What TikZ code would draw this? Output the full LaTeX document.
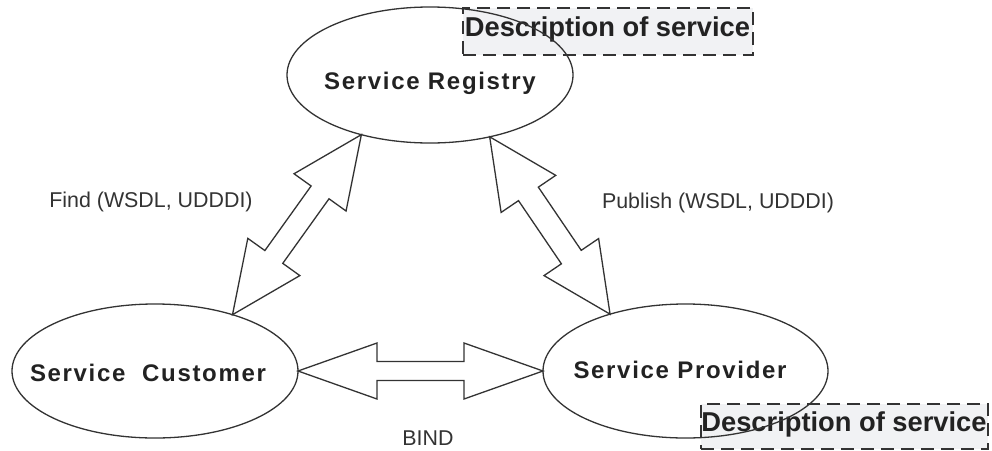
\documentclass[tikz,border=0pt]{standalone}
\usepackage{fontspec}
\setmainfont{Liberation Sans}
\newfontfamily\spacedfont[LetterSpace=7]{Liberation Sans}
\usetikzlibrary{calc,shapes.geometric}
\definecolor{linegray}{HTML}{333333}
\definecolor{boxfill}{HTML}{F1F2F4}
\definecolor{txtgray}{HTML}{222222}
\tikzset{
  blockarrow/.style={draw=linegray, line width=1.3pt, line join=miter, fill=white},
  ell/.style={ellipse, draw=linegray, line width=1.3pt, inner sep=0pt, outer sep=0pt},
  elabel/.style={inner sep=0pt, font=\spacedfont\bfseries\fontsize{24}{28}\selectfont, text=txtgray},
  slabel/.style={inner sep=0pt, font=\fontsize{21.4}{25}\selectfont, text=linegray},
  descbox/.style={draw=linegray, fill=boxfill, line width=1.6pt, dash pattern=on 13pt off 7pt, inner sep=0pt},
  desctext/.style={inner sep=0pt, font=\bfseries\fontsize{27.3}{31}\selectfont, text=txtgray}
}
\newcommand\blockarr[5]{%
  \draw[blockarrow] (#1)
   -- ($(#1)!#3!(#2)!#4!90:(#2)$)
   -- ($(#1)!#3!(#2)!#5!90:(#2)$)
   -- ($(#2)!#3!(#1)!#5!-90:(#1)$)
   -- ($(#2)!#3!(#1)!#4!-90:(#1)$)
   -- (#2)
   -- ($(#2)!#3!(#1)!#4!90:(#1)$)
   -- ($(#2)!#3!(#1)!#5!90:(#1)$)
   -- ($(#1)!#3!(#2)!#5!-90:(#2)$)
   -- ($(#1)!#3!(#2)!#4!-90:(#2)$)
   -- cycle;}
\begin{document}
\begin{tikzpicture}[x=1pt,y=-1pt]
\useasboundingbox[fill=white] (0,0) rectangle (992,450);
% description boxes
\node[descbox, minimum width=290pt, minimum height=47pt] (d1) at (608,31.5) {};
\node[desctext] (d1t) at (607.5,29) {Description of service};
\node[descbox, minimum width=287pt, minimum height=45pt] (d2) at (844.5,426.5) {};
\node[desctext] (d2t) at (844,424) {Description of service};
% ellipses
\node[ell, minimum width=286pt, minimum height=136pt] (reg) at (430,75) {};
\node[ell, minimum width=286pt, minimum height=134pt] (cust) at (155,371) {};
\node[ell, minimum width=285pt, minimum height=134pt] (prov) at (685.5,371) {};
\node[elabel] (regt) at (430,83) {Service Registry};
\node[elabel] (custt) at (148,373) {Service\ \ Customer};
\node[elabel] (provt) at (680,370) {Service Provider};
% labels
\node[slabel] (find) at (151,202) {Find (WSDL, UDDDI)};
\node[slabel] (pub) at (718,203) {Publish (WSDL, UDDDI)};
\node[slabel] (bind) at (428,438) {BIND};
% arrows
\blockarr{reg.221}{cust.36}{71pt}{32pt}{11pt}
\blockarr{reg.314}{prov.143}{69pt}{33pt}{12pt}
\blockarr{cust.0}{prov.180}{79pt}{28pt}{9.5pt}
\end{tikzpicture}
\end{document}
